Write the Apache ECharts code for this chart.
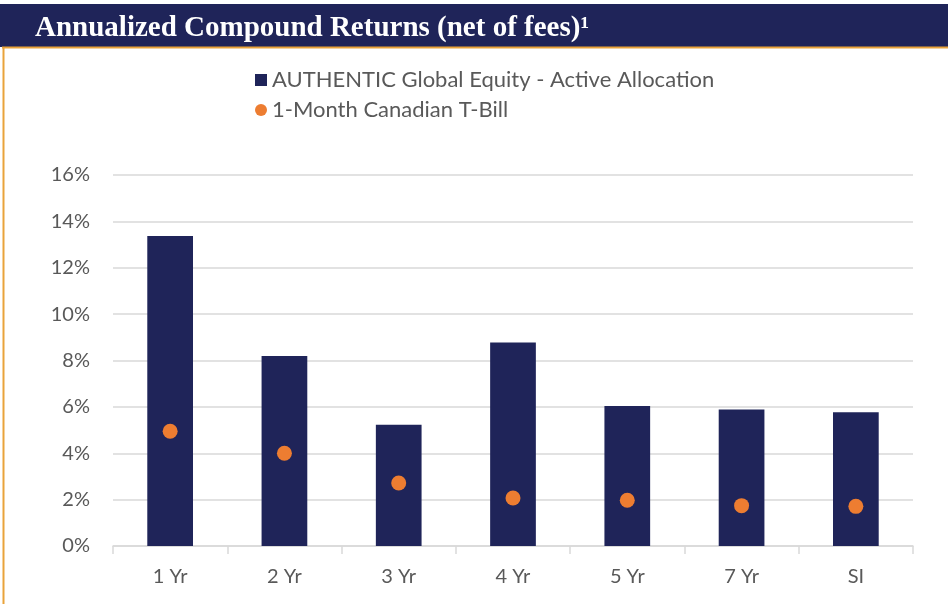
<!DOCTYPE html>
<html>
<head>
<meta charset="utf-8">
<script src="https://cdn.jsdelivr.net/npm/echarts@6/dist/echarts.min.js"></script>
<style>
  html, body { margin: 0; padding: 0; background: #fff; }
  #chart { width: 952px; height: 604px; }
</style>
</head>
<body>
<div id="chart"></div>
<script>
// 数据
const categories = ['1 Yr', '2 Yr', '3 Yr', '4 Yr', '5 Yr', '7 Yr', 'SI'];
const fundReturns = [13.37, 8.19, 5.23, 8.78, 6.04, 5.89, 5.77];
const tbillReturns = [4.95, 4.00, 2.72, 2.07, 1.97, 1.74, 1.71];
const seriesNames = ['AUTHENTIC Global Equity - Active Allocation', '1-Month Canadian T-Bill'];

const mychart = echarts.init(document.getElementById('chart'));
mychart.setOption({
    animation: false,
    title: {
        text: 'Annualized Compound Returns (net of fees)\u00b9',
        left: 30,
        top: 9,
        textStyle: {
            color: '#ffffff',
            fontFamily: 'Liberation Serif',
            fontWeight: 'bold',
            fontSize: 29,
        },
    },
    graphic: [
        // 标题背景
        { type: 'rect', z: -1, shape: { x: 0, y: 4, width: 948, height: 43 }, style: { fill: '#1f2459' } },
        { type: 'line', shape: { x1: 2, y1: 47.5, x2: 948, y2: 47.5 }, style: { stroke: '#e9a33b', lineWidth: 2 } },
        { type: 'line', shape: { x1: 3.5, y1: 47, x2: 3.5, y2: 604 }, style: { stroke: '#e9a33b', lineWidth: 2 } },
    ],
    legend: {
        orient: 'vertical',
        left: 250,
        top: 64,
        itemGap: 8,
        itemWidth: 12,
        itemHeight: 12,
        textStyle: {
            color: '#595959',
            fontFamily: 'Lato',
            fontSize: 22,
        },
        data: [
            { name: seriesNames[0], icon: 'rect' },
            { name: seriesNames[1], icon: 'circle' },
        ],
    },
    grid: {
        left: 113,
        right: 39,
        top: 175,
        bottom: 58,
    },
    xAxis: {
        type: 'category',
        data: categories,
        axisLine: { lineStyle: { color: '#d9d9d9', width: 1.5 } },
        axisTick: { show: true, length: 8, lineStyle: { color: '#d9d9d9', width: 1.5 } },
        axisLabel: {
            color: '#595959',
            fontFamily: 'Lato',
            fontSize: 20,
            margin: 21,
        },
    },
    yAxis: {
        type: 'value',
        min: 0,
        max: 16,
        interval: 2,
        axisLine: { show: false },
        axisTick: { show: false },
        axisLabel: {
            formatter: '{value}%',
            color: '#595959',
            fontFamily: 'Lato',
            fontSize: 20,
            margin: 23,
        },
        splitLine: { lineStyle: { color: '#d9d9d9', width: 1.5 } },
    },
    series: [
        {
            name: seriesNames[0],
            type: 'bar',
            data: fundReturns,
            barWidth: '40%',
            itemStyle: { color: '#1f2459' },
            z: 2,
        },
        {
            name: seriesNames[1],
            type: 'scatter',
            data: tbillReturns,
            symbolSize: 15,
            itemStyle: { color: '#ed7d31', opacity: 1 },
            z: 3,
        },
    ],
});
</script>
</body>
</html>
